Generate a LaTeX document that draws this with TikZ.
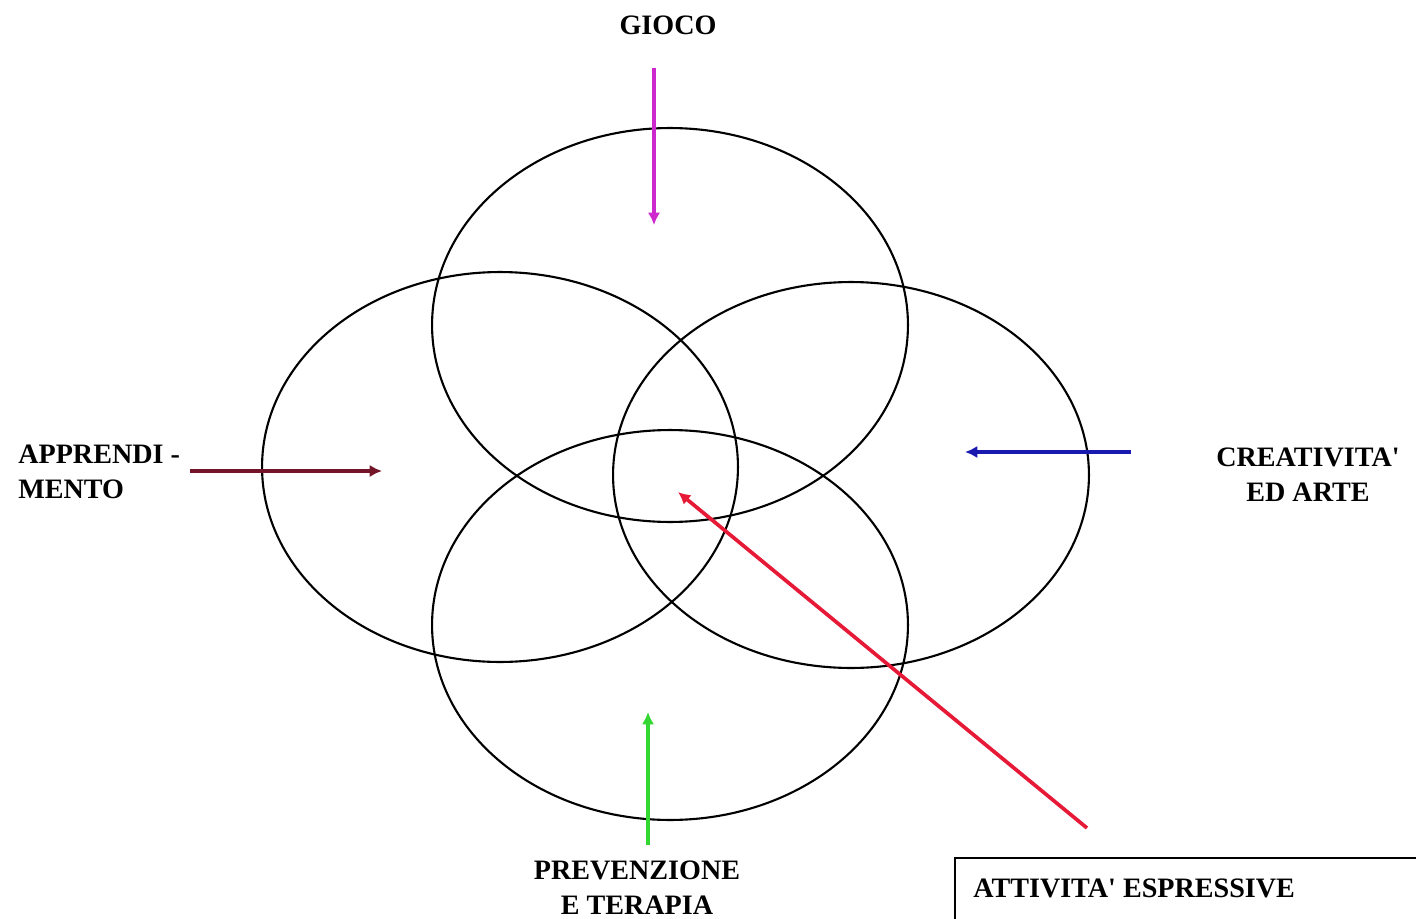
\documentclass[tikz,border=0pt]{standalone}
\usepackage{xcolor}
\usepackage{fontspec}
\setmainfont{Liberation Serif}
\usepackage{tikz}
\usetikzlibrary{arrows.meta,positioning,shapes.geometric}

\definecolor{giococol}{RGB}{205,40,205}
\definecolor{apprcol}{RGB}{115,20,40}
\definecolor{creacol}{RGB}{25,25,175}
\definecolor{prevcol}{RGB}{50,215,50}
\definecolor{esprcol}{RGB}{230,25,55}

\begin{document}
\begin{tikzpicture}[
  x=0.02cm, y=-0.02cm,
  ring/.style={ellipse,draw=black,line width=1.2pt,minimum width=9.52cm,minimum height=7.8cm,inner sep=0pt},
  tag/.style={font=\bfseries\fontsize{16}{20}\selectfont,inner sep=0pt,align=center},
  arrow/.style={-{Latex[length=7pt,width=7pt]},line width=2.1pt}
]
  \path[use as bounding box] (0,0) rectangle (1416,919);
  \clip (0,0) rectangle (1416,919);

  % the four fields
  \node[ring,minimum height=7.88cm] (top) at (670,325) {};
  \node[ring] (left) at (500,467) {};
  \node[ring,minimum height=7.72cm] (right) at (851,475) {};
  \node[ring] (bottom) at (670,625) {};

  % labels
  \node[tag] (gioco) at (668,25) {GIOCO};
  \node[tag,align=left,anchor=west] (appr) at (18,472) {APPRENDI -\\MENTO};
  \node[tag] (crea) at (1308,475) {CREATIVITA\textquotesingle\\ED ARTE};
  \node[tag] (prev) at (637,888) {PREVENZIONE\\E TERAPIA};
  \node[tag,anchor=west] (espr) at (973,888) {ATTIVITA\textquotesingle{} ESPRESSIVE};
  \draw[line width=1.3pt] (955,858) rectangle (1450,950);

  % arrow ends
  \coordinate (g1) at (654,68);  \coordinate (g2) at (654,225);
  \coordinate (a1) at (190,471); \coordinate (a2) at (382,471);
  \coordinate (c1) at (1131,452); \coordinate (c2) at (965,452);
  \coordinate (p1) at (648,845); \coordinate (p2) at (648,712);
  \coordinate (e1) at (1087,828); \coordinate (e2) at (678,492);

  \draw[arrow,giococol] (g1) -- (g2);
  \draw[arrow,apprcol] (a1) -- (a2);
  \draw[arrow,creacol] (c1) -- (c2);
  \draw[arrow,prevcol] (p1) -- (p2);
  \draw[arrow,esprcol] (e1) -- (e2);
\end{tikzpicture}
\end{document}
